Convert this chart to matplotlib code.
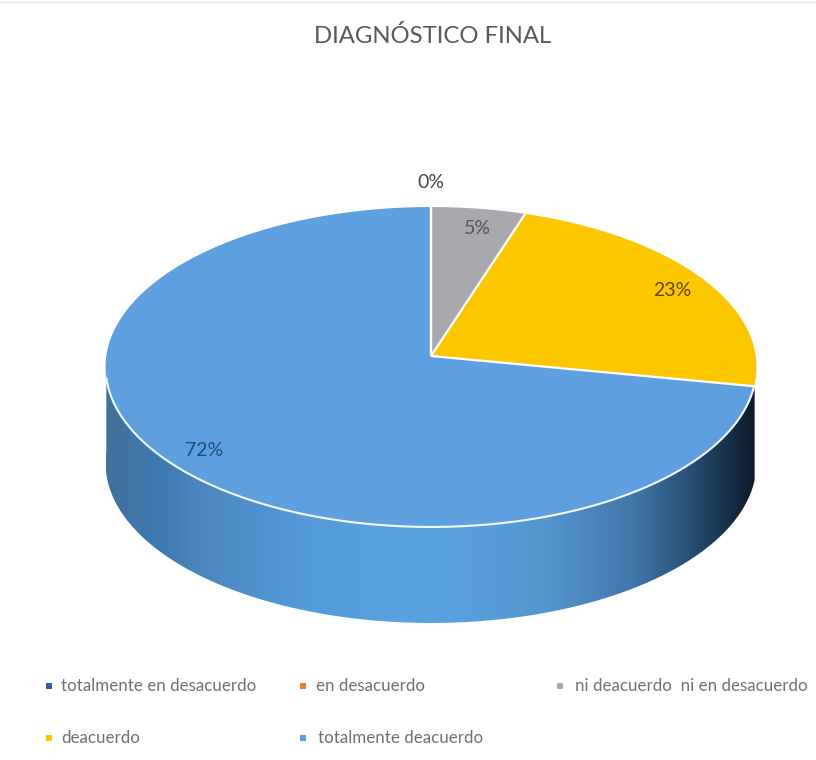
import numpy as np
import matplotlib
matplotlib.use("Agg")
import matplotlib.pyplot as plt
from matplotlib.colors import LinearSegmentedColormap
from matplotlib.patches import Polygon

# Survey results
categories = ["totalmente en desacuerdo", "en desacuerdo",
              "ni deacuerdo  ni en desacuerdo", "deacuerdo", "totalmente deacuerdo"]
values = [0, 0, 5, 23, 72]
slice_colors = ["#2f5f9e", "#ed7d31", "#a9a9ad", "#fdc700", "#5e9fe0"]
title = "DIAGNÓSTICO FINAL"

# Projection of the tilted disc
CX, CY = 431.0, 356.0
RX, RY, TILT = 324.7, 159.2, 0.06875
DEPTH = 96.0


def project(theta_deg, drop=0.0):
    t = np.radians(theta_deg)
    u, v = np.sin(t), -np.cos(t)
    w = 1 - TILT * v
    return CX + RX * u / w, CY + RY * v / w + drop


fig = plt.figure(figsize=(8.16, 7.60), dpi=100, facecolor="white")
ax = fig.add_axes([0, 0, 1, 1])
ax.set_xlim(0, 816)
ax.set_ylim(760, 0)
ax.axis("off")
plt.rcParams["font.family"] = ["Lato", "DejaVu Sans"]

# Thin chart border along the top
ax.plot([0, 816], [2, 2], color="#e4e4e4", lw=1)

# Side wall: horizontal shading clipped to the silhouette
top_sweep = np.linspace(100, 270, 300)
low_sweep = np.linspace(270, 100, 300)
tx, ty = project(top_sweep)
bx, by = project(low_sweep, DEPTH)
wall = Polygon(np.column_stack([np.r_[tx, bx], np.r_[ty, by]]), closed=True,
               transform=ax.transData, facecolor="none", edgecolor="none")
ax.add_patch(wall)
stops = [(0.00, "#44709c"), (0.07, "#3b78b0"), (0.15, "#4c87bf"), (0.30, "#539bd9"),
         (0.50, "#5aa2e0"), (0.68, "#5596cf"), (0.82, "#3f75a8"), (0.91, "#274a6d"),
         (1.00, "#0c1a2a")]
shade = LinearSegmentedColormap.from_list("wall", stops)
img = ax.imshow(np.linspace(0, 1, 512).reshape(1, -1), cmap=shade, aspect="auto",
                extent=[106, 755, 640, 200], zorder=1)
img.set_clip_path(wall)
ax.set_xlim(0, 816)
ax.set_ylim(760, 0)

# Top face: one wedge per category, clockwise from twelve o'clock
edges = 360 * np.cumsum([0] + values) / sum(values)
for start, end, color in zip(edges[:-1], edges[1:], slice_colors):
    if end > start:
        th = np.linspace(start, end, 200)
        x, y = project(th)
        ax.fill(np.r_[CX, x], np.r_[CY, y], color=color, lw=0, zorder=2)

# White separators and the front rim of the largest slice
for boundary in np.unique(edges):
    x, y = project(boundary)
    ax.plot([CX, x], [CY, y], color="white", lw=1.6, zorder=3, solid_capstyle="butt")
rim = np.linspace(edges[-2], 262, 200)
rx_, ry_ = project(rim)
ax.plot(rx_, ry_, color="#f2f8fd", lw=1.5, zorder=3)

ax.text(433, 36, title, ha="center", va="center", fontsize=17.2, color="#595959")

# Percentage labels
pct_labels = [(431, 183, values[1], "#474747"), (477, 228, values[2], "#555555"),
              (672, 291, values[3], "#5b4700"), (204, 451, values[4], "#1f4a7c")]
for x, y, val, col in pct_labels:
    ax.text(x, y, f"{val}%", ha="center", va="center", fontsize=14, color=col, zorder=4)

# Legend entries, laid out in two rows
marker_x = [49, 303, 560, 49, 303]
text_x = [61, 316, 575, 61, 318]
legend_y = [686, 686, 686, 738, 738]
for mx, lx, ly, name, col in zip(marker_x, text_x, legend_y, categories, slice_colors):
    ax.scatter([mx], [ly], s=22, marker="s", color=col, lw=0, zorder=4)
    ax.text(lx, ly, name, ha="left", va="center", fontsize=12.2, color="#707070")

fig.savefig("out.png", dpi=100, facecolor="white")
